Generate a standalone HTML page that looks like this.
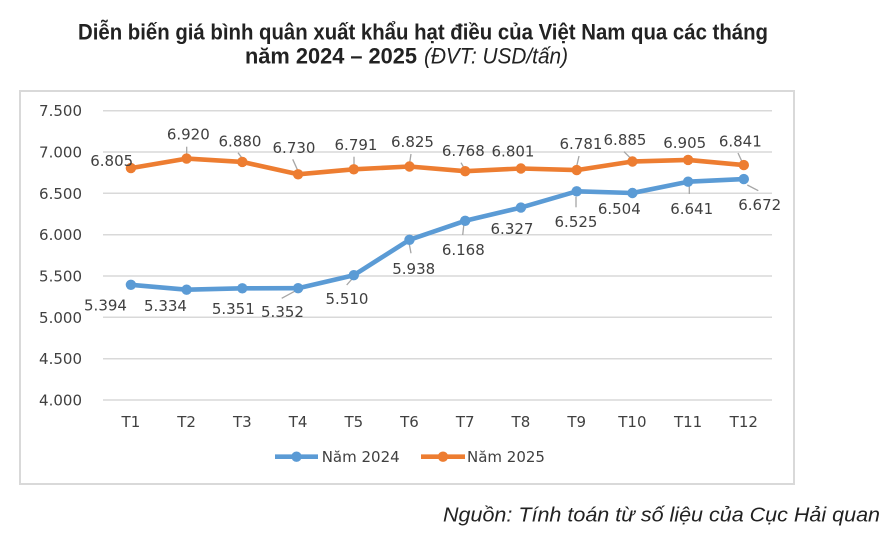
<!DOCTYPE html>
<html><head><meta charset="utf-8"><style>
html,body{margin:0;padding:0;background:#fff;}
svg{display:block;}
</style></head><body>
<svg width="891" height="541" viewBox="0 0 891 541" xmlns="http://www.w3.org/2000/svg">
<rect x="0" y="0" width="891" height="541" fill="#fff"/>
<!-- Title -->
<text x="78" y="39.5" font-family="Liberation Sans, sans-serif" font-weight="bold" font-size="22" fill="#222" textLength="690" lengthAdjust="spacingAndGlyphs">Diễn biến giá bình quân xuất khẩu hạt điều của Việt Nam qua các tháng</text>
<text x="245" y="63.5" font-family="Liberation Sans, sans-serif" font-weight="bold" font-size="22" fill="#222" textLength="172" lengthAdjust="spacingAndGlyphs">năm 2024 – 2025</text>
<text x="424" y="63.5" font-family="Liberation Sans, sans-serif" font-style="italic" font-size="22" fill="#222" textLength="144" lengthAdjust="spacingAndGlyphs">(ĐVT: USD/tấn)</text>

<!-- Frame -->
<rect x="20" y="91" width="774" height="393" fill="#fff" stroke="#d9d9d9" stroke-width="2"/>

<!-- Gridlines -->
<g stroke="#d9d9d9" stroke-width="1.5">
<line x1="103" y1="110.7" x2="772" y2="110.7"/>
<line x1="103" y1="152" x2="772" y2="152"/>
<line x1="103" y1="193.3" x2="772" y2="193.3"/>
<line x1="103" y1="234.7" x2="772" y2="234.7"/>
<line x1="103" y1="276" x2="772" y2="276"/>
<line x1="103" y1="317.3" x2="772" y2="317.3"/>
<line x1="103" y1="358.7" x2="772" y2="358.7"/>
<line x1="103" y1="400" x2="772" y2="400"/>
</g>

<!-- Y labels -->
<g font-family="DejaVu Sans, sans-serif" font-size="15" fill="#404040" text-anchor="end">
<text x="82" y="116">7.500</text>
<text x="82" y="157.5">7.000</text>
<text x="82" y="198.8">6.500</text>
<text x="82" y="240.2">6.000</text>
<text x="82" y="281.5">5.500</text>
<text x="82" y="322.8">5.000</text>
<text x="82" y="364.2">4.500</text>
<text x="82" y="405.5">4.000</text>
</g>

<!-- X labels -->
<g font-family="DejaVu Sans, sans-serif" font-size="15" fill="#404040" text-anchor="middle">
<text x="130.9" y="427">T1</text>
<text x="186.6" y="427">T2</text>
<text x="242.3" y="427">T3</text>
<text x="298.1" y="427">T4</text>
<text x="353.8" y="427">T5</text>
<text x="409.5" y="427">T6</text>
<text x="465.2" y="427">T7</text>
<text x="520.9" y="427">T8</text>
<text x="576.7" y="427">T9</text>
<text x="632.4" y="427">T10</text>
<text x="688.1" y="427">T11</text>
<text x="743.8" y="427">T12</text>
</g>

<!-- Leader lines -->
<g stroke="#a6a6a6" stroke-width="1.3" fill="none">
<line x1="186.7" y1="146.7" x2="186.7" y2="155"/>
<line x1="238" y1="152.7" x2="242" y2="158"/>
<line x1="292.7" y1="159.3" x2="298.3" y2="171.7"/>
<line x1="354" y1="156.7" x2="354" y2="167.3"/>
<line x1="411" y1="154" x2="409.5" y2="164"/>
<line x1="461" y1="162.7" x2="464" y2="168"/>
<line x1="579" y1="156" x2="576.5" y2="167"/>
<line x1="624" y1="151.7" x2="630.7" y2="158.3"/>
<line x1="738" y1="153" x2="742" y2="161.7"/>
<line x1="281.7" y1="298.3" x2="298.3" y2="289.3"/>
<line x1="346.7" y1="285" x2="354" y2="276.7"/>
<line x1="411" y1="253.3" x2="409.3" y2="244"/>
<line x1="462.7" y1="235" x2="464" y2="223.3"/>
<line x1="576" y1="196.7" x2="576" y2="207.3"/>
<line x1="689.3" y1="185" x2="689.3" y2="194"/>
<line x1="747.3" y1="185" x2="758.3" y2="190.7"/>
</g>

<!-- Series 2025 (orange) -->
<polyline fill="none" stroke="#ED7D31" stroke-width="4.6" stroke-linejoin="round" stroke-linecap="round"
points="130.9,168.1 186.6,158.6 242.3,161.9 298.1,174.3 353.8,169.3 409.5,166.5 465.2,171.2 520.9,168.5 576.7,170.1 632.4,161.5 688.1,159.9 743.8,165.1"/>
<g fill="#ED7D31">
<circle cx="130.9" cy="168.1" r="5.2"/><circle cx="186.6" cy="158.6" r="5.2"/><circle cx="242.3" cy="161.9" r="5.2"/>
<circle cx="298.1" cy="174.3" r="5.2"/><circle cx="353.8" cy="169.3" r="5.2"/><circle cx="409.5" cy="166.5" r="5.2"/>
<circle cx="465.2" cy="171.2" r="5.2"/><circle cx="520.9" cy="168.5" r="5.2"/><circle cx="576.7" cy="170.1" r="5.2"/>
<circle cx="632.4" cy="161.5" r="5.2"/><circle cx="688.1" cy="159.9" r="5.2"/><circle cx="743.8" cy="165.1" r="5.2"/>
</g>

<!-- Series 2024 (blue) -->
<polyline fill="none" stroke="#5B9BD5" stroke-width="4.6" stroke-linejoin="round" stroke-linecap="round"
points="130.9,284.8 186.6,289.7 242.3,288.3 298.1,288.2 353.8,275.2 409.5,239.8 465.2,220.8 520.9,207.6 576.7,191.3 632.4,193.0 688.1,181.7 743.8,179.1"/>
<g fill="#5B9BD5">
<circle cx="130.9" cy="284.8" r="5.2"/><circle cx="186.6" cy="289.7" r="5.2"/><circle cx="242.3" cy="288.3" r="5.2"/>
<circle cx="298.1" cy="288.2" r="5.2"/><circle cx="353.8" cy="275.2" r="5.2"/><circle cx="409.5" cy="239.8" r="5.2"/>
<circle cx="465.2" cy="220.8" r="5.2"/><circle cx="520.9" cy="207.6" r="5.2"/><circle cx="576.7" cy="191.3" r="5.2"/>
<circle cx="632.4" cy="193.0" r="5.2"/><circle cx="688.1" cy="181.7" r="5.2"/><circle cx="743.8" cy="179.1" r="5.2"/>
</g>

<!-- Data labels -->
<g font-family="DejaVu Sans, sans-serif" font-size="15" fill="#404040" text-anchor="middle">
<text x="111.7" y="166.2">6.805</text>
<text x="188.3" y="139.5">6.920</text>
<text x="240" y="146.5">6.880</text>
<text x="294" y="152.8">6.730</text>
<text x="356" y="149.8">6.791</text>
<text x="412.5" y="147.2">6.825</text>
<text x="463.3" y="156.2">6.768</text>
<text x="513" y="156.5">6.801</text>
<text x="581" y="148.8">6.781</text>
<text x="625" y="144.8">6.885</text>
<text x="684.7" y="147.8">6.905</text>
<text x="740.3" y="146.5">6.841</text>

<text x="105.5" y="310.5">5.394</text>
<text x="165.5" y="311.2">5.334</text>
<text x="233.3" y="313.8">5.351</text>
<text x="282.5" y="317.2">5.352</text>
<text x="347" y="303.8">5.510</text>
<text x="413.7" y="273.8">5.938</text>
<text x="463.3" y="254.8">6.168</text>
<text x="512" y="233.8">6.327</text>
<text x="576" y="227.2">6.525</text>
<text x="619.3" y="213.8">6.504</text>
<text x="691.7" y="213.8">6.641</text>
<text x="759.7" y="209.8">6.672</text>
</g>

<!-- Legend -->
<line x1="275" y1="456.7" x2="318" y2="456.7" stroke="#5B9BD5" stroke-width="4.6"/>
<circle cx="296.5" cy="456.7" r="5.2" fill="#5B9BD5"/>
<text x="321.7" y="462" font-family="DejaVu Sans, sans-serif" font-size="15" fill="#404040">Năm 2024</text>
<line x1="421" y1="456.7" x2="465" y2="456.7" stroke="#ED7D31" stroke-width="4.6"/>
<circle cx="443" cy="456.7" r="5.2" fill="#ED7D31"/>
<text x="467" y="462" font-family="DejaVu Sans, sans-serif" font-size="15" fill="#404040">Năm 2025</text>

<!-- Source -->
<text x="443" y="521.7" font-family="Liberation Sans, sans-serif" font-style="italic" font-size="20" fill="#222" textLength="437" lengthAdjust="spacingAndGlyphs">Nguồn: Tính toán từ số liệu của Cục Hải quan</text>
</svg>
</body></html>
